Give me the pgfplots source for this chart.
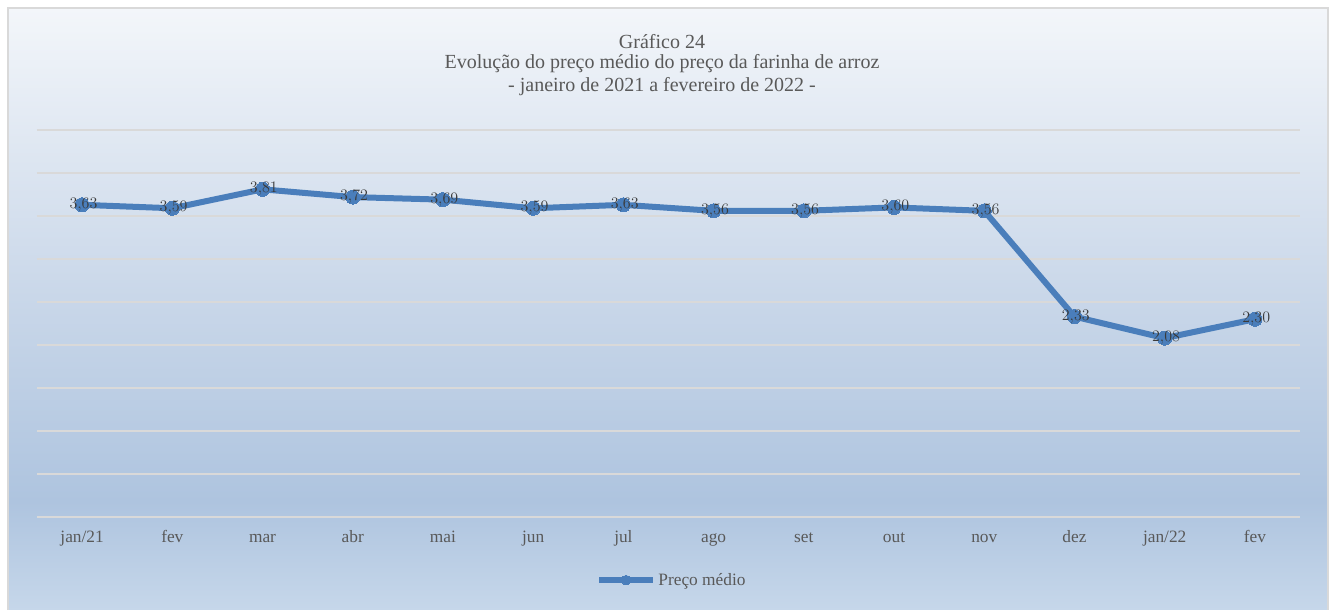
\documentclass[border=0pt]{standalone}
\usepackage{fontspec}
\setmainfont{Liberation Serif}
\usepackage{pgfplots}
\pgfplotsset{compat=1.18}
\definecolor{linblue}{HTML}{4A7EBB}
\definecolor{gridc}{HTML}{D9D9D9}
\definecolor{txt}{HTML}{595959}
\definecolor{lbl}{HTML}{3A3A3A}
\definecolor{bgtop}{HTML}{F3F6FA}
\definecolor{bgmid}{HTML}{C9D7E9}
\definecolor{bglow}{HTML}{AEC4DF}
\definecolor{bgbot}{HTML}{C6D7EA}
\pgfdeclareverticalshading{chartbg}{100bp}{color(0bp)=(bgbot); color(25bp)=(bgbot); color(34bp)=(bglow); color(51bp)=(bgmid); color(75bp)=(bgtop); color(100bp)=(bgtop)}
\begin{document}
\begin{tikzpicture}[x=0.75pt,y=0.75pt]
\path[use as bounding box] (0,0) rectangle (1335,610);
\shade[shading=chartbg] (8,0) rectangle (1328,602);
\draw[gridc, line width=1pt] (8,0) -- (8,602) -- (1328,602) -- (1328,0);
\node[text=txt, font=\fontsize{15}{17}\selectfont] at (662,568) {Gráfico 24};
\node[text=txt, font=\fontsize{15}{17}\selectfont] at (662,546) {Evolução do preço médio do preço da farinha de arroz};
\node[text=txt, font=\fontsize{15}{17}\selectfont] at (662,523) {- janeiro de 2021 a fevereiro de 2022 -};
\begin{axis}[
  at={(27.75pt,69.75pt)}, anchor=south west,
  width=947.25pt, height=290.25pt, scale only axis,
  xmin=-0.5, xmax=13.5, ymin=0, ymax=4.5,
  ytick={0,0.5,...,4.5}, yticklabels={},
  ymajorgrids, grid style={gridc, line width=1.2pt},
  axis line style={draw=none},
  major tick length=0pt,
  xtick={0,...,13},
  xticklabels={jan/21,fev,mar,abr,mai,jun,jul,ago,set,out,nov,dez,jan/22,fev},
  xticklabel style={font=\fontsize{13}{15}\selectfont, text=txt, anchor=base, yshift=-19.5pt},
  legend style={at={(0.503,-0.163)}, anchor=center, draw=none, fill=none,
    font=\fontsize{13}{15}\selectfont, text=txt, inner sep=0pt},
  legend image code/.code={\draw[mark repeat=2,mark phase=2,mark size=3.6pt] plot coordinates {(0pt,0pt)(20pt,0pt)(40pt,0pt)};},
  clip=false,
]
\addplot[color=linblue, line width=4.5pt, mark=*, mark size=5.3pt,
  mark options={fill=linblue, draw=linblue, line width=0pt},
  nodes near coords={\pgfmathprintnumber[fixed,fixed zerofill,precision=2,use comma]{\pgfplotspointmeta}},
  every node near coord/.append style={anchor=center, xshift=1pt, font=\fontsize{13}{15}\selectfont, text=lbl},
] coordinates {
(0,3.63) (1,3.59) (2,3.81) (3,3.72) (4,3.69) (5,3.59) (6,3.63) (7,3.56) (8,3.56) (9,3.60) (10,3.56) (11,2.33) (12,2.08) (13,2.30)
};
\addlegendentry{Preço médio}
\end{axis}
\end{tikzpicture}
\end{document}
